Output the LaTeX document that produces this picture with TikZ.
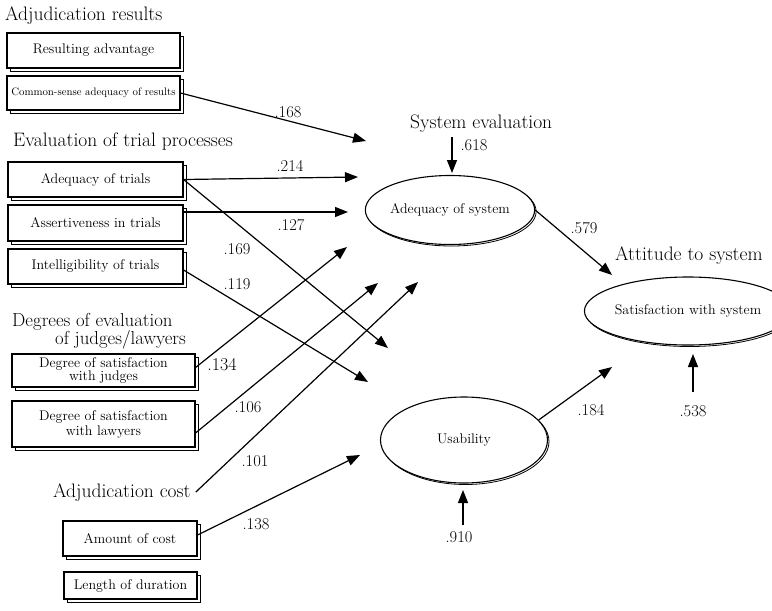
\documentclass[tikz,border=0pt]{standalone}
\usetikzlibrary{arrows.meta,shapes.geometric,shadows}
\begin{document}
\begin{tikzpicture}[x=1pt,y=-1pt,
  grp/.style={anchor=base west,inner sep=0pt,font=\fontsize{19.5}{21}\selectfont},
  bx/.style={draw,line width=1.1pt,fill=white,inner sep=0pt,align=center,
     font=\fontsize{14}{14}\selectfont,
     copy shadow={shadow xshift=3pt,shadow yshift=-3pt,line width=0.7pt}},
  el/.style={ellipse,draw,line width=1.1pt,fill=white,inner sep=0pt,
     font=\fontsize{14}{14}\selectfont,
     copy shadow={shadow xshift=1.5pt,shadow yshift=-1.5pt,line width=0.8pt}},
  num/.style={inner sep=0pt,font=\fontsize{16.5}{17}\selectfont},
  arr/.style={line width=1.2pt,-{Triangle[length=13pt,width=10pt]}}
]
\useasboundingbox (0,0) rectangle (772,611);

% group labels
\node[grp] (gres) at (5,20) {Adjudication results};
\node[grp] (gtrial) at (13,146) {Evaluation of trial processes};
\node[grp,align=left,font={\fontsize{18.8}{18}\selectfont\lineskiplimit=-100pt}] (gdeg) at (12,344) {Degrees of evaluation\\\hspace*{43pt}of judges/lawyers};
\node[grp] (cost) at (53,497) {Adjudication cost};
\node[grp] (gsys) at (410,128) {System evaluation};
\node[grp] (gatt) at (615,260) {Attitude to system};

% boxes
\node[bx,minimum width=173pt,minimum height=35pt] (b1) at (93.5,50.5) {Resulting advantage};
\node[bx,minimum width=173pt,minimum height=34pt,font=\fontsize{10.8}{12}\selectfont] (b2) at (93.5,93) {Common-sense adequacy of results};
\node[bx,minimum width=175pt,minimum height=35pt] (b3) at (95.5,179.5) {Adequacy of trials};
\node[bx,minimum width=175pt,minimum height=36pt] (b4) at (95.5,223) {Assertiveness in trials};
\node[bx,minimum width=175pt,minimum height=35pt] (b5) at (95.5,266.5) {Intelligibility of trials};
\node[bx,minimum width=183pt,minimum height=33pt,font=\fontsize{14}{13}\selectfont] (b6) at (103.5,370.5) {Degree of satisfaction\\with judges};
\node[bx,minimum width=183pt,minimum height=46pt,font=\fontsize{14}{15}\selectfont] (b7) at (103.5,424) {Degree of satisfaction\\with lawyers};
\node[bx,minimum width=134pt,minimum height=35pt] (b8) at (130,538.5) {Amount of cost};
\node[bx,minimum width=133pt,minimum height=27pt] (b9) at (130.5,585.5) {Length of duration};

% ellipses
\node[el,minimum width=164pt,minimum height=69pt] (adeq) at (450,210) {Adequacy of system};
\node[el,minimum width=166pt,minimum height=68pt] (satis) at (688,311) {Satisfaction with system};
\node[el,minimum width=167pt,minimum height=86pt] (usab) at (464,440) {Usability};

% free ends
\coordinate (t168) at (366,141);
\coordinate (t214) at (358,177);
\coordinate (t127) at (348,212);
\coordinate (t169) at (388,348);
\coordinate (t119) at (368,382);
\coordinate (t134) at (347,247);
\coordinate (t106) at (378,283);
\coordinate (t101) at (418,282);
\coordinate (t138) at (360,455);
\coordinate (t579) at (612,275);
\coordinate (t184) at (612,367);
\coordinate (s618) at (452,137);
\coordinate (t618) at (452,173);
\coordinate (s538) at (693,392);
\coordinate (t538) at (693,354);
\coordinate (s910) at (463,525);
\coordinate (t910) at (463,490);

% connectors
\draw[arr] (b2.east) -- (t168);
\draw[arr] (b3.east) -- (t214);
\draw[arr] (b4.east |- t127) -- (t127);
\draw[arr] (b3.east) -- (t169);
\draw[arr] ([yshift=-3.5pt]b5.east) -- (t119);
\draw[arr] ([yshift=3pt]b6.east) -- (t134);
\draw[arr] ([yshift=-9pt]b7.east) -- (t106);
\draw[arr] ([xshift=5pt]cost.east) -- (t101);
\draw[arr] ([yshift=3.5pt]b8.east) -- (t138);
\draw[arr] (adeq.east) -- (t579);
\draw[arr] (usab.15) -- (t184);
\draw[arr] (s618) -- (t618);
\draw[arr] (s538) -- (t538);
\draw[arr] (s910) -- (t910);

% coefficients
\node[num] (n168) at (288,112) {.168};
\node[num] (n618) at (474,145) {.618};
\node[num] (n214) at (290,166) {.214};
\node[num] (n127) at (291,225) {.127};
\node[num] (n579) at (584,228) {.579};
\node[num] (n169) at (237,249) {.169};
\node[num] (n119) at (237,284) {.119};
\node[num,font=\fontsize{18}{18}\selectfont] (n134) at (222,365) {.134};
\node[num] (n106) at (248,407) {.106};
\node[num] (n101) at (255,461) {.101};
\node[num] (n138) at (256,524) {.138};
\node[num] (n184) at (591,410) {.184};
\node[num] (n538) at (693,411) {.538};
\node[num] (n910) at (459,537) {.910};
\end{tikzpicture}
\end{document}
